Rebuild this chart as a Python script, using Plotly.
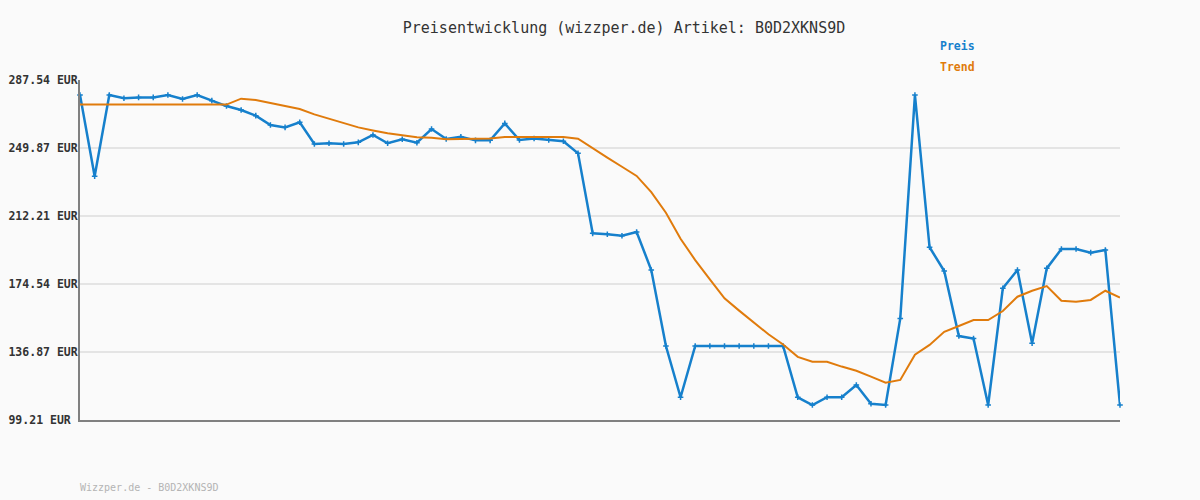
import plotly.graph_objects as go

# Data
idx = list(range(72))
preis = [279.2, 234.2, 279.2, 277.4, 277.9, 277.9, 279.2, 277.0, 279.2, 276.1,
         273.1, 270.9, 267.8, 262.6, 261.3, 264.1, 252.1, 252.5, 252.1, 253.0,
         257.1, 252.5, 254.7, 252.8, 260.4, 254.9, 256.1, 254.1, 254.1, 263.5,
         254.3, 255.1, 254.3, 253.6, 246.9, 202.6, 202.1, 201.3, 203.3, 182.3,
         140.2, 111.8, 140.2, 140.2, 140.2, 140.2, 140.2, 140.2, 140.2, 111.8,
         107.5, 111.8, 111.8, 118.6, 108.2, 107.5, 155.5, 279.2, 194.9, 181.7,
         145.7, 144.3, 107.5, 172.2, 182.3, 141.7, 183.2, 193.9, 193.9, 191.9,
         193.4, 107.5]
trend = [273.9, 273.9, 273.9, 273.9, 273.9, 273.9, 273.9, 273.9, 273.9, 273.9,
         273.9, 277.2, 276.5, 274.8, 273.1, 271.5, 268.5, 266.0, 263.5, 261.3,
         259.6, 258.0, 257.0, 255.8, 255.6, 254.7, 254.9, 255.0, 255.1, 255.9,
         256.0, 256.0, 256.0, 256.0, 255.0, 249.5, 244.5, 239.5, 234.4, 225.4,
         214.0, 199.6, 187.8, 177.1, 166.6, 159.8, 153.1, 146.7, 141.0, 134.2,
         131.5, 131.5, 128.8, 126.5, 123.2, 119.9, 121.4, 135.4, 140.8, 148.1,
         151.3, 154.6, 154.6, 159.6, 167.5, 170.8, 173.4, 165.3, 164.7, 165.7,
         170.8, 167.0]
tick_vals = [99.21, 136.87, 174.54, 212.21, 249.87, 287.54]
tick_text = ["99.21 EUR\u00a0", "136.87 EUR", "174.54 EUR", "212.21 EUR",
             "249.87 EUR", "287.54 EUR"]
title_text = "Preisentwicklung (wizzper.de) Artikel: B0D2XKNS9D"
legend_names = ["Preis", "Trend"]
watermark = "Wizzper.de - B0D2XKNS9D"

BLUE = "#1680cc"
ORANGE = "#e07b0c"
MONO = "DejaVu Sans Mono"

fig = go.Figure()
fig.add_trace(go.Scatter(
    x=idx, y=preis, mode="lines+markers", name=legend_names[0],
    line=dict(color=BLUE, width=2.5),
    marker=dict(symbol="cross-thin", size=4, color=BLUE,
                line=dict(color=BLUE, width=1.5)),
    cliponaxis=False,
))
fig.add_trace(go.Scatter(
    x=idx, y=trend, mode="lines", name=legend_names[1],
    line=dict(color=ORANGE, width=2),
    cliponaxis=False,
))

fig.update_layout(
    width=1200, height=500,
    margin=dict(l=80, r=80, t=80, b=80, autoexpand=False),
    paper_bgcolor="#fafafa", plot_bgcolor="#fafafa",
    showlegend=False,
    title=dict(text=title_text, x=624 / 1200, xanchor="center",
               y=1 - 28 / 500, yanchor="middle", xref="container",
               font=dict(family=MONO, size=15, color="#333333")),
    xaxis=dict(range=[0, 71], showgrid=False, zeroline=False,
               showticklabels=False, ticks="", automargin=False,
               showline=True, linecolor="#808080", linewidth=2),
    yaxis=dict(range=[99.21, 287.54], tickvals=tick_vals, ticktext=tick_text,
               showgrid=True, gridcolor="#e4e4e4", gridwidth=2,
               zeroline=False, ticks="", automargin=False,
               ticklabelstandoff=-2,
               showline=True, linecolor="#808080", linewidth=2,
               tickfont=dict(family=MONO, size=11.5, color="#333333",
                             weight="bold")),
)

fig.add_annotation(text="<b>" + legend_names[0] + "</b>", xref="paper", yref="paper",
                   x=(938 - 80) / 1040, y=1 + (80 - 46) / 340,
                   xanchor="left", yanchor="middle", showarrow=False,
                   font=dict(family=MONO, size=11.5, color=BLUE))
fig.add_annotation(text="<b>" + legend_names[1] + "</b>", xref="paper", yref="paper",
                   x=(938 - 80) / 1040, y=1 + (80 - 67) / 340,
                   xanchor="left", yanchor="middle", showarrow=False,
                   font=dict(family=MONO, size=11.5, color=ORANGE))
fig.add_annotation(text=watermark, xref="paper", yref="paper",
                   x=-2 / 1040, y=-(487 - 420) / 340,
                   xanchor="left", yanchor="middle", showarrow=False,
                   font=dict(family=MONO, size=10, color="#b4b4b4"))

fig.write_html("out.html", config={"displayModeBar": False},
               post_script="document.body.style.margin='0';"
                           "document.body.style.background='#fafafa';")
